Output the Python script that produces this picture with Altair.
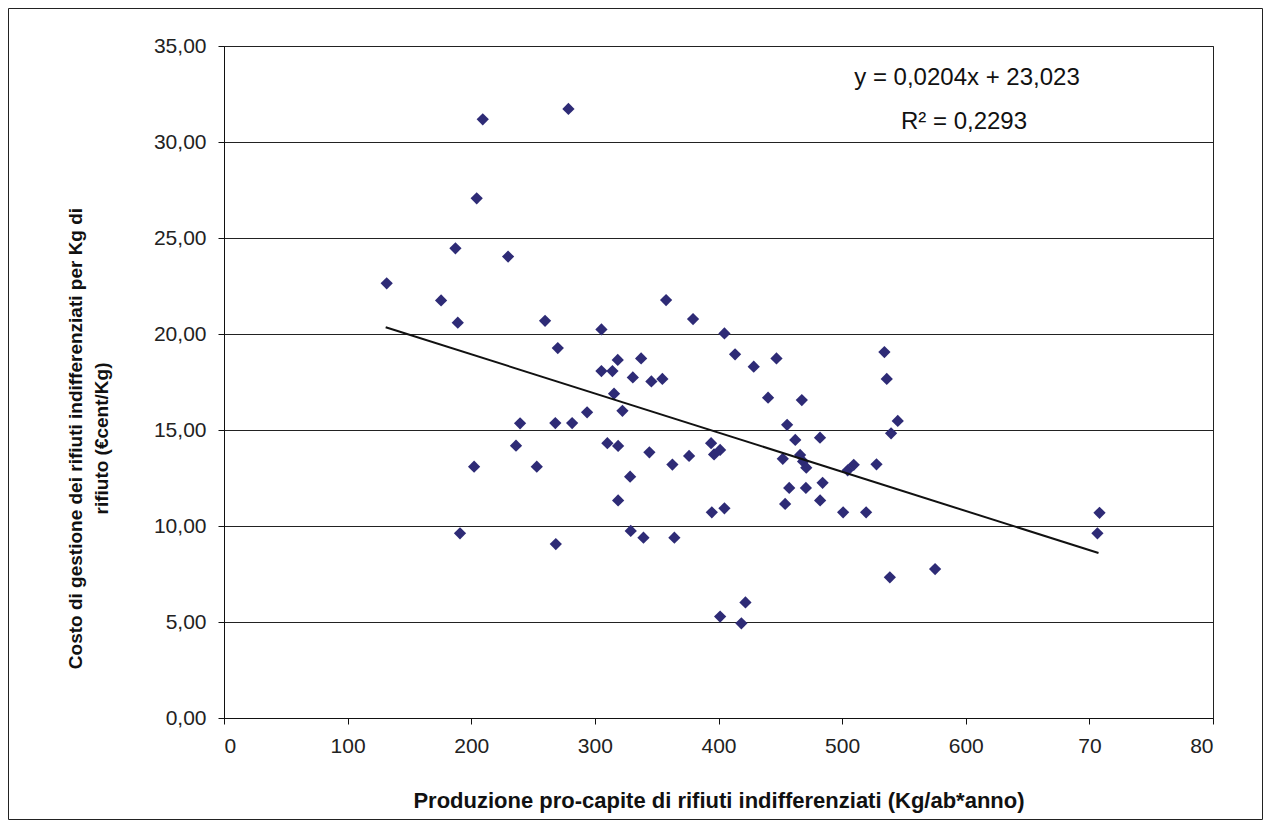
import altair as alt
import pandas as pd

# --- data ---
produzione = [131.6, 175.6, 187.2, 189.1, 190.9, 202.3, 204.4, 209.3, 229.8, 236.2,
              239.5, 253.0, 259.7, 268.0, 268.4, 270.0, 278.6, 281.6, 293.7, 305.3,
              305.3, 310.1, 314.2, 315.5, 318.5, 318.8, 318.8, 322.3, 328.5, 329.0,
              330.7, 337.4, 339.3, 344.1, 345.7, 354.6, 357.6, 362.7, 364.3, 376.2,
              379.4, 394.0, 394.6, 396.4, 401.3, 401.3, 404.8, 404.8, 413.4, 418.5,
              421.8, 428.5, 440.1, 446.9, 452.0, 453.9, 455.5, 457.2, 462.1, 466.0,
              467.4, 468.4, 471.0, 470.7, 482.1, 482.2, 484.2, 500.8, 504.5, 509.4,
              519.4, 527.8, 534.2, 536.1, 539.6, 545.0, 538.6, 575.2, 706.5, 708.2]
costo = [22.64, 21.75, 24.46, 20.59, 9.62, 13.09, 27.07, 31.18, 24.03, 14.18,
         15.35, 13.09, 20.69, 15.36, 9.06, 19.27, 31.72, 15.36, 15.92, 20.24,
         18.07, 14.31, 18.07, 16.89, 18.65, 14.17, 11.33, 16.00, 12.57, 9.74,
         17.74, 18.73, 9.39, 13.84, 17.53, 17.66, 21.77, 13.20, 9.39, 13.65,
         20.78, 14.31, 10.71, 13.73, 13.96, 5.28, 20.03, 10.92, 18.94, 4.93,
         6.02, 18.30, 16.68, 18.73, 13.50, 11.15, 15.27, 11.98, 14.48, 13.70,
         16.56, 13.36, 13.04, 11.98, 14.60, 11.33, 12.25, 10.71, 12.90, 13.19,
         10.71, 13.21, 19.06, 17.66, 14.83, 15.47, 7.33, 7.76, 9.62, 10.69]

# fitted trend line as printed on the chart
trend_slope = -0.0204
trend_intercept = 23.023
equation_text = "y = 0,0204x + 23,023"
r2_text = "R² = 0,2293"

x_tick_values = [0, 100, 200, 300, 400, 500, 600, 700, 800]
x_tick_labels = ["0", "100", "200", "300", "400", "500", "600", "70", "80"]
y_tick_values = [0, 5, 10, 15, 20, 25, 30, 35]

x_title = "Produzione pro-capite di rifiuti indifferenziati (Kg/ab*anno)"
y_title = ["Costo di gestione dei rifiuti indifferenziati per Kg di",
           "rifiuto (€cent/Kg)"]

FONT = "Liberation Sans"
MARK_COLOR = "#2e2b76"

df = pd.DataFrame({"produzione": produzione, "costo": costo})
tx = [min(produzione) - 0.8, max(produzione) - 0.8]
trend_df = pd.DataFrame({"produzione": tx,
                         "costo": [trend_intercept + trend_slope * v for v in tx]})

# label expression for x axis built from the tick lists
x_expr = "''"
for v, l in reversed(list(zip(x_tick_values, x_tick_labels))):
    x_expr = f"datum.value == {v} ? '{l}' : {x_expr}"

PW, PH = 989, 672
PAD = {"left": 216, "top": 38, "right": 50, "bottom": 102}

x_enc = alt.X("produzione:Q",
              scale=alt.Scale(domain=[0, 800], nice=False, zero=False),
              axis=alt.Axis(values=x_tick_values, labelExpr=x_expr, title=x_title,
                            grid=False, tickSize=6, labelPadding=11,
                            titleY=82, titleBaseline="middle",
                            titleFontSize=22, labelFontSize=21))
y_enc = alt.Y("costo:Q",
              scale=alt.Scale(domain=[0, 35], nice=False),
              axis=alt.Axis(values=y_tick_values,
                            labelExpr="replace(format(datum.value, '.2f'), '.', ',')",
                            title=y_title, grid=True, tickSize=6, labelPadding=12,
                            titleX=-149, titleY=392, titleAngle=-90,
                            titleBaseline="middle", titleLineHeight=26,
                            titleFontSize=19, labelFontSize=21))

points = alt.Chart(df).mark_point(
    shape="diamond", filled=True, size=150, color=MARK_COLOR, opacity=1
).encode(x=x_enc, y=y_enc)

trend = alt.Chart(trend_df).mark_line(color="#111111", strokeWidth=2).encode(
    x="produzione:Q", y="costo:Q")

eq = alt.Chart(pd.DataFrame({"t": [equation_text]})).mark_text(
    font=FONT, fontSize=24, color="#111111", align="center", baseline="middle"
).encode(x=alt.value(743), y=alt.value(32), text="t:N")

r2 = alt.Chart(pd.DataFrame({"t": [r2_text]})).mark_text(
    font=FONT, fontSize=24, color="#111111", align="center", baseline="middle"
).encode(x=alt.value(740), y=alt.value(76), text="t:N")

frame = alt.Chart(pd.DataFrame({"a": [0]})).mark_rect(
    fill="transparent", stroke="#222222", strokeWidth=1
).encode(x=alt.value(-PAD["left"] + 0.5), x2=alt.value(PW + PAD["right"] - 0.5),
         y=alt.value(-PAD["top"] + 0.5), y2=alt.value(PH + PAD["bottom"] - 0.5))

chart = alt.layer(frame, points, trend, eq, r2).properties(
    width=PW, height=PH,
    autosize=alt.AutoSizeParams(type="none"),
    padding=PAD,
    background="white",
).configure_view(
    stroke="#222222", strokeWidth=1
).configure_axis(
    labelFont=FONT, titleFont=FONT, labelColor="#222222", titleColor="#111111",
    titleFontWeight="bold", domainColor="#111111", tickColor="#111111",
    gridColor="#222222", gridWidth=1, domainWidth=1, tickWidth=1
)

chart.save("out.html", embed_options={"renderer": "svg", "actions": False})
